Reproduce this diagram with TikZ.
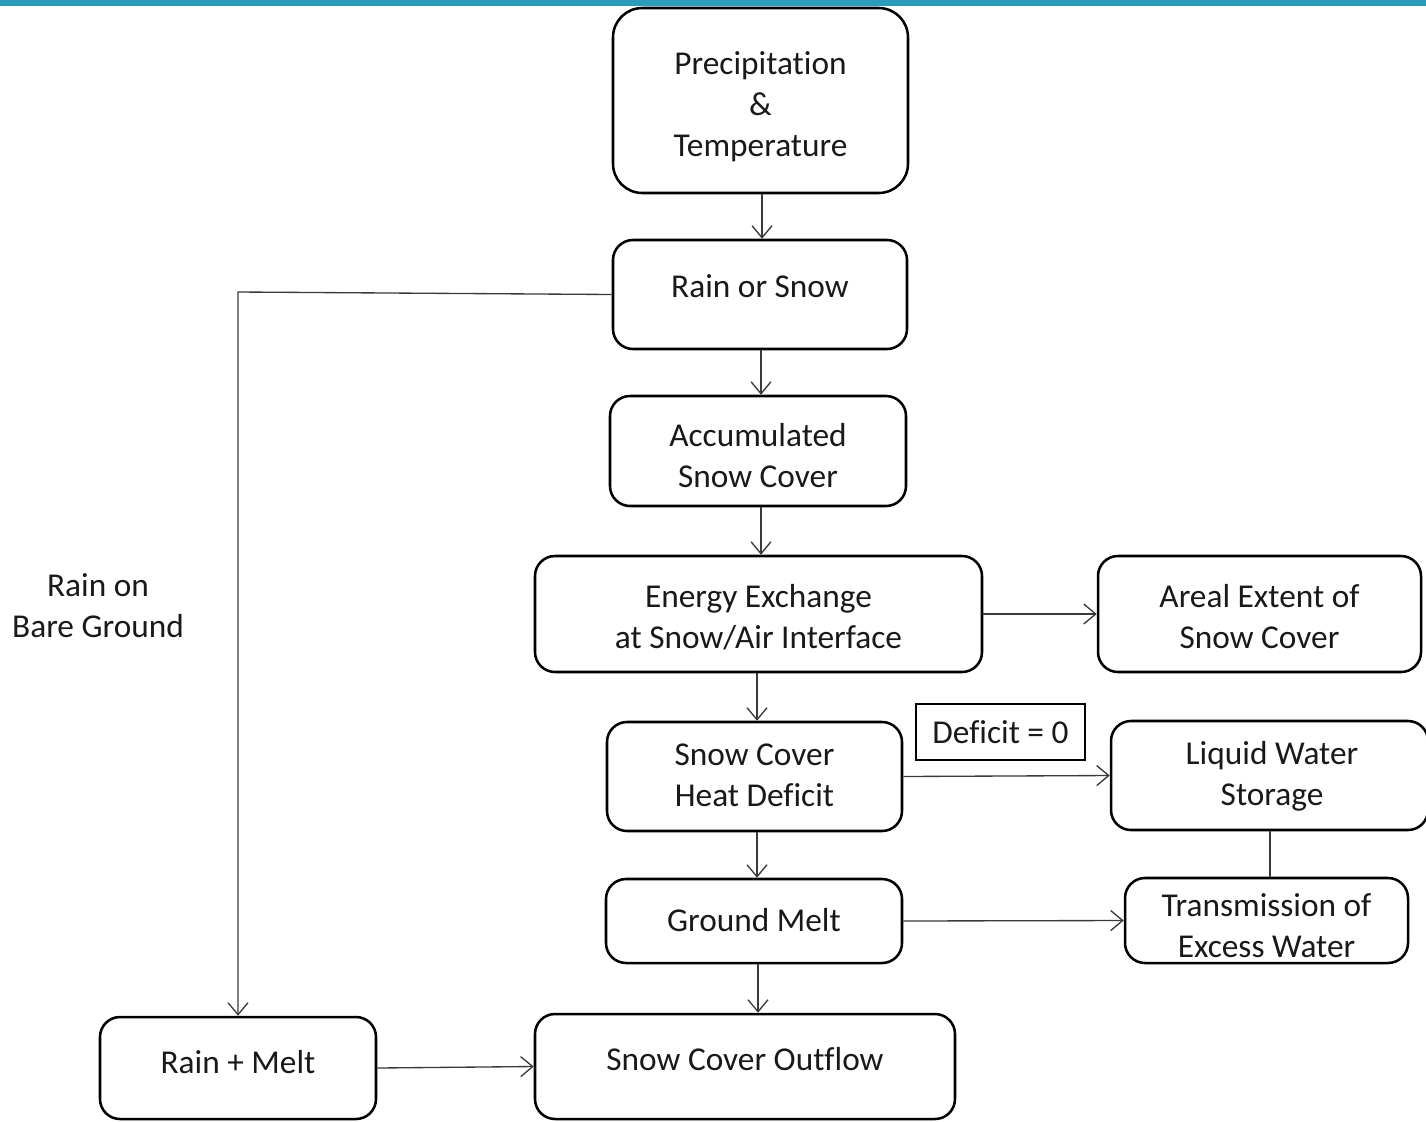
\documentclass[tikz,border=0pt]{standalone}
\usepackage{fontspec}
\setmainfont[Ligatures=NoCommon]{Carlito}
\usetikzlibrary{arrows.meta}
\definecolor{teal1}{HTML}{2C9CBC}
\definecolor{linec}{HTML}{3A3A3A}
\begin{document}
\begin{tikzpicture}[x=0.75pt,y=-0.75pt,
  box/.style={draw=black,line width=1.9pt,rounded corners=15pt,rectangle,inner sep=0pt},
  sqbox/.style={draw=black,line width=1.9pt,rectangle,inner sep=0pt},
  txt/.style={font=\fontsize{25}{30.75}\selectfont,align=center,anchor=base,inner sep=0pt,text=black!90},
  arr/.style={draw=linec,line width=1pt,-{Straight Barb[length=9pt,width=15pt,line width=1pt]}},
  con/.style={draw=linec,line width=1pt}]
\useasboundingbox (0,0) rectangle (1426,1121);
\fill[teal1] (0,0) rectangle (1426,6);
% boxes
\node[box,rounded corners=22pt,minimum width=295*0.75pt,minimum height=185*0.75pt] (prec) at (760.5,100.5) {};
\node[box,minimum width=294*0.75pt,minimum height=109*0.75pt] (rs) at (760,294.5) {};
\node[box,minimum width=296*0.75pt,minimum height=110*0.75pt] (acc) at (758,451) {};
\node[box,minimum width=447*0.75pt,minimum height=116*0.75pt] (en) at (758.5,614) {};
\node[box,minimum width=323*0.75pt,minimum height=116*0.75pt] (ar) at (1259.5,614) {};
\node[box,minimum width=295*0.75pt,minimum height=109*0.75pt] (hd) at (754.5,776.5) {};
\node[box,minimum width=317*0.75pt,minimum height=109*0.75pt] (lw) at (1269.5,775.5) {};
\node[sqbox,minimum width=169*0.75pt,minimum height=56*0.75pt] (dz) at (1000.5,732) {};
\node[box,minimum width=296*0.75pt,minimum height=84*0.75pt] (gm) at (754,921) {};
\node[box,minimum width=283*0.75pt,minimum height=85*0.75pt] (tr) at (1266.5,920.5) {};
\node[box,minimum width=276*0.75pt,minimum height=102*0.75pt] (rm) at (238,1068) {};
\node[box,minimum width=420*0.75pt,minimum height=105*0.75pt] (out) at (745,1066.5) {};
% texts (base anchor = baseline of last line)
\node[txt] (precT) at (760.5,156) {Precipitation\\\&\\Temperature};
\node[txt] (rsT) at (760,297) {Rain or Snow};
\node[txt] (accT) at (758,487) {Accumulated\\Snow Cover};
\node[txt] (enT) at (758.5,648) {Energy Exchange\\at Snow/Air Interface};
\node[txt] (arT) at (1259.5,648) {Areal Extent of\\Snow Cover};
\node[txt] (hdT) at (754.5,806) {Snow Cover\\Heat Deficit};
\node[txt] (lwT) at (1272,805) {Liquid Water\\Storage};
\node[txt] (dzT) at (1000.5,743) {Deficit = 0};
\node[txt] (gmT) at (754,931) {Ground Melt};
\node[txt] (trT) at (1266.5,957) {Transmission of\\Excess Water};
\node[txt] (rmT) at (238,1073) {Rain + Melt};
\node[txt] (outT) at (745,1070) {Snow Cover Outflow};
\node[txt] (rbT) at (98,637) {Rain on\\Bare Ground};
% connectors
\draw[arr] (prec.south -| 762,0) -- (rs.north -| 762,0);
\draw[arr] (rs.south -| 761,0) -- (acc.north -| 761,0);
\draw[arr] (acc.south -| 761,0) -- (en.north -| 761,0);
\draw[arr] (en.south -| 757,0) -- (hd.north -| 757,0);
\draw[arr] (hd.south -| 757,0) -- (gm.north -| 757,0);
\draw[arr] (gm.south -| 758,0) -- (out.north -| 758,0);
\draw[arr] (en.east) -- (ar.west);
\draw[arr] (hd.east) -- (lw.west);
\draw[arr] (gm.east) -- (tr.west);
\draw[con] (lw.south -| 1270,0) -- (tr.north -| 1270,0);
\coordinate (bend) at (238,292);
\draw[arr] (rs.west) -- (bend) -- (rm.north);
\draw[arr] (rm.east) -- (out.west);
\end{tikzpicture}
\end{document}
